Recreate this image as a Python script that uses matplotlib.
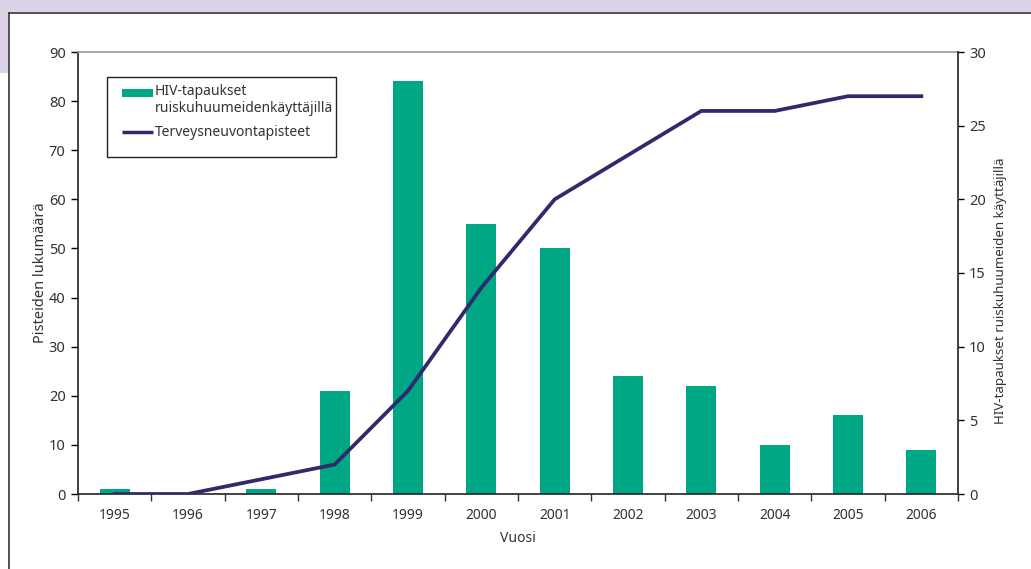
import matplotlib.pyplot as plt
from matplotlib.lines import Line2D
from matplotlib.patches import Rectangle
from matplotlib.legend_handler import HandlerLine2D

plt.rcParams['font.family'] = ['Noto Sans', 'DejaVu Sans']

years = ['1995', '1996', '1997', '1998', '1999', '2000', '2001', '2002', '2003', '2004', '2005', '2006']
hiv_cases = [1, 0, 1, 21, 84, 55, 50, 24, 22, 10, 16, 9]
points = [0, 0, 1, 2, 7, 14, 20, 23, 26, 26, 27, 27]

bar_col = '#00a784'
line_col = '#2f2a6c'
txt_col = '#333333'


class UpperHandler(HandlerLine2D):
    # puts the handle at the first line of a two line label
    def create_artists(self, legend, orig_handle, xdescent, ydescent, width, height, fontsize, trans):
        arts = super().create_artists(legend, orig_handle, xdescent, ydescent, width, height, fontsize, trans)
        for a in arts:
            a.set_ydata([y + 0.55 * fontsize for y in a.get_ydata()])
        return arts


fig = plt.figure(figsize=(10.31, 5.69), dpi=100)
W, H = 1031, 569

# background frame
fig.patches.append(Rectangle((0, 1 - 12 / H), 1, 12 / H, transform=fig.transFigure,
                             facecolor='#ddd3e6', edgecolor='none', zorder=-5))
fig.patches.append(Rectangle((0, 1 - 73 / H), 8 / W, 73 / H, transform=fig.transFigure,
                             facecolor='#ddd3e6', edgecolor='none', zorder=-5))
fig.add_artist(Line2D([8.5 / W, 1], [1 - 12.5 / H, 1 - 12.5 / H], transform=fig.transFigure,
                      color='#333333', lw=1.2))
fig.add_artist(Line2D([8.5 / W, 8.5 / W], [0, 1 - 12.5 / H], transform=fig.transFigure,
                      color='#333333', lw=1.2))

ax = fig.add_axes([78 / W, 75 / H, 880 / W, 442 / H])
x = list(range(len(years)))
ax.bar(x, hiv_cases, width=0.41, color=bar_col, zorder=2)
ax.set_xlim(-0.5, len(years) - 0.5)
ax.set_ylim(0, 90)
ax.set_yticks(range(0, 91, 10))

ax.set_xticks(x)
ax.set_xticklabels(years)
ax.set_xticks([i + 0.5 for i in range(-1, len(years))], minor=True)
ax.tick_params(axis='x', which='major', length=0, pad=10, labelsize=10, labelcolor=txt_col)
ax.tick_params(axis='x', which='minor', length=5, width=1, direction='out', color='#333333')
ax.tick_params(axis='y', length=5, width=1, direction='out', labelsize=10.5, labelcolor=txt_col, pad=4)

for s in ['left', 'bottom']:
    ax.spines[s].set_color('#222222')
    ax.spines[s].set_linewidth(1.2)
ax.spines['top'].set_color('#999999')
ax.spines['top'].set_linewidth(1.2)
ax.spines['right'].set_visible(False)

ax.set_xlabel('Vuosi', fontsize=10, color=txt_col, labelpad=6)
ax.set_ylabel('Pisteiden lukumäärä', fontsize=10.5, color=txt_col, labelpad=0.5)

ax2 = ax.twinx()
ax2.plot(x, points, color=line_col, lw=2.7, solid_joinstyle='miter', zorder=3)
ax2.set_ylim(0, 30)
ax2.set_yticks(range(0, 31, 5))
ax2.tick_params(axis='y', length=4, width=1, direction='out', labelsize=10.5, labelcolor=txt_col, pad=4)
ax2.spines['right'].set_color('#222222')
ax2.spines['right'].set_linewidth(1.2)
for s in ['top', 'left', 'bottom']:
    ax2.spines[s].set_visible(False)
ax2.set_ylabel('HIV-tapaukset ruiskuhuumeiden käyttäjillä', fontsize=9.6, color=txt_col, labelpad=6)
ax2.yaxis.label.set_y(0.46)

# legend box drawn by hand, legend content without frame
ax2.add_patch(Rectangle((0.033, 0.762), 0.26, 0.181, transform=ax2.transAxes, facecolor='white',
                        edgecolor='#222222', lw=1.0, zorder=4))
handles = [Line2D([], [], color=bar_col, lw=5.8, solid_capstyle='butt'),
           Line2D([], [], color=line_col, lw=2.5, solid_capstyle='butt')]
labels = ['HIV-tapaukset\nruiskuhuumeidenkäyttäjillä', 'Terveysneuvontapisteet']
leg = ax2.legend(handles, labels, loc='upper left', bbox_to_anchor=(0.05, 0.927),
                 frameon=False, fontsize=10, handlelength=2.2, handletextpad=0.15,
                 borderpad=0, labelspacing=0.65, borderaxespad=0,
                 handler_map={handles[0]: UpperHandler()})
leg.set_zorder(5)
for t in leg.get_texts():
    t.set_color(txt_col)

fig.savefig('out.png', dpi=100)
